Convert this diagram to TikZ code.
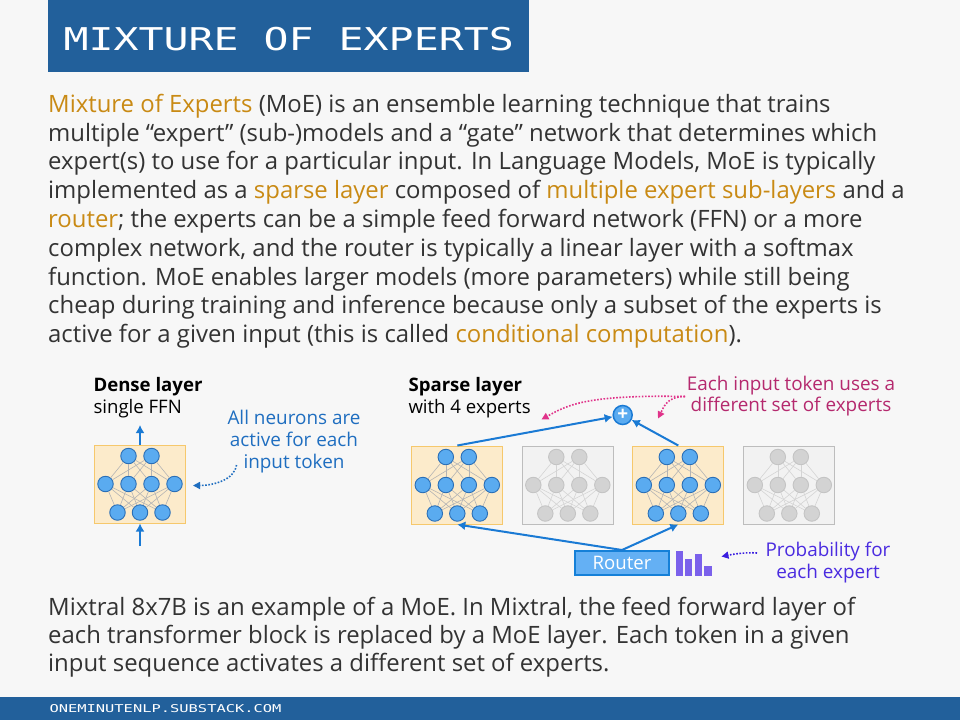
\documentclass[tikz,border=0pt]{standalone}
\usepackage{fontspec}
\usepackage{graphicx}
\setmainfont{Open Sans}
\newfontfamily\pixfont{DejaVu Sans Mono}
\usetikzlibrary{arrows.meta}
\definecolor{bg}{HTML}{F7F7F7}
\definecolor{titleblue}{HTML}{22609B}
\definecolor{txt}{HTML}{333333}
\definecolor{gold}{HTML}{C98A14}
\definecolor{conblue}{HTML}{1A7AD4}
\definecolor{nodefill}{HTML}{5AABF0}
\definecolor{nodedraw}{HTML}{2B6FB6}
\definecolor{boxfill}{HTML}{FCEBCB}
\definecolor{boxdraw}{HTML}{F6C86C}
\definecolor{netline}{HTML}{B4B4B4}
\definecolor{grayfill}{HTML}{F2F2F2}
\definecolor{graydraw}{HTML}{BDBDBD}
\definecolor{grayneuron}{HTML}{D3D3D3}
\definecolor{grayneurond}{HTML}{C4C4C4}
\definecolor{grayline}{HTML}{D4D4D4}
\definecolor{annblue}{HTML}{1F6EC0}
\definecolor{magtext}{HTML}{B5296E}
\definecolor{magarrow}{HTML}{E0338A}
\definecolor{purptext}{HTML}{4A2BE0}
\definecolor{purparrow}{HTML}{3A1EE0}
\definecolor{barpurple}{HTML}{7B61EB}
\definecolor{routerfill}{HTML}{64B0F4}
\definecolor{routerdraw}{HTML}{1580D8}
\tikzset{
  para/.style={anchor=base west, inner sep=0pt, text=txt, font=\fontsize{23.9pt}{28pt}\selectfont},
  ann/.style={anchor=base, inner sep=0pt, font=\fontsize{18.9pt}{22pt}\selectfont},
  hdr/.style={anchor=base west, inner sep=0pt, text=black, font=\fontsize{18.6pt}{22pt}\selectfont},
  arr/.style={draw=conblue, line width=2pt, -{Latex[length=8pt,width=9pt]}},
  dotarr/.style={line width=1.6pt, dash pattern=on 1.6pt off 1.6pt, -{Triangle[length=7pt,width=7pt]}},
  pics/net/.style n args={5}{code={
    \node[draw=#2, fill=#1, line width=1pt, minimum width=91pt, minimum height=78pt, inner sep=0pt] (-box) at (0,39) {};
    \foreach \n/\xx/\yy in {t1/-11.5/11, t2/11.5/11, m1/-34.5/39, m2/-11.5/39, m3/11.5/39, m4/34.5/39, b1/-22.5/67.5, b2/0/67.5, b3/22.5/67.5}
      \node[circle, fill=#3, draw=#4, line width=0.9pt, minimum size=15.5pt, inner sep=0pt] (-\n) at (\xx,\yy) {};
    \foreach \a in {t1,t2}
      \foreach \b in {m1,m2,m3,m4}
        \draw[draw=#5, line width=0.6pt] (-\a) -- (-\b);
    \foreach \a in {m1,m2,m3,m4}
      \foreach \b in {b1,b2,b3}
        \draw[draw=#5, line width=0.6pt] (-\a) -- (-\b);
  }}
}
\begin{document}
\begin{tikzpicture}[x=1pt,y=-1pt]
\useasboundingbox (0,0) rectangle (960,720);
\fill[bg] (0,0) rectangle (960,720);

% title bar
\node[fill=titleblue, minimum width=481pt, minimum height=72pt, inner sep=0pt, anchor=north west] (titlebar) at (48,0) {};
\node[anchor=base west, inner sep=0pt, text=white] (title) at (63.5,50) {\resizebox{450pt}{23.3pt}{\pixfont MIXTURE OF EXPERTS}};

% paragraph
\node[para] (p1) at (48,112.3) {{\color{gold}Mixture of Experts} (MoE) is an ensemble learning technique that trains};
\node[para] (p2) at (48,141.1) {multiple “expert” (sub-)models and a “gate” network that determines which};
\node[para] (p3) at (48,169.9) {expert(s) to use for a particular input. In Language Models, MoE is typically};
\node[para] (p4) at (48,198.7) {implemented as a {\color{gold}sparse layer} composed of {\color{gold}multiple expert sub-layers} and a};
\node[para] (p5) at (48,227.5) {{\color{gold}router}; the experts can be a simple feed forward network (FFN) or a more};
\node[para] (p6) at (48,256.3) {complex network, and the router is typically a linear layer with a softmax};
\node[para] (p7) at (48,285.1) {function. MoE enables larger models (more parameters) while still being};
\node[para] (p8) at (48,313.9) {cheap during training and inference because only a subset of the experts is};
\node[para] (p9) at (48,342.7) {active for a given input (this is called {\color{gold}conditional computation}).};

% dense layer
\node[hdr] (dh1) at (93.3,391.7) {\bfseries Dense layer};
\node[hdr] (dh2) at (93.3,413.8) {single FFN};
\pic (d) at (140,445) {net={boxfill}{boxdraw}{nodefill}{nodedraw}{netline}};
\coordinate (dout) at (140,425);
\coordinate (din) at (140,546);
\draw[arr] (d-box.north) -- (dout);
\draw[arr] (din) -- (d-box.south);

\node[ann, text=annblue] (an1) at (294,424) {All neurons are};
\node[ann, text=annblue] (an2) at (294,446) {active for each};
\node[ann, text=annblue] (an3) at (294,468) {input token};
\coordinate (na1) at (236.5,465);
\coordinate (na2) at (193,485.5);
\draw[dotarr, draw=annblue] (na1) .. controls +(-2,15) and +(20,0) .. (na2);

% sparse layer
\node[hdr] (sh1) at (408.3,391.7) {\bfseries Sparse layer};
\node[hdr] (sh2) at (408.3,413.8) {with 4 experts};
\pic (b1) at (457.3,446) {net={boxfill}{boxdraw}{nodefill}{nodedraw}{netline}};
\pic (b2) at (567.8,446) {net={grayfill}{graydraw}{grayneuron}{grayneurond}{grayline}};
\pic (b3) at (678.3,446) {net={boxfill}{boxdraw}{nodefill}{nodedraw}{netline}};
\pic (b4) at (789.3,446) {net={grayfill}{graydraw}{grayneuron}{grayneurond}{grayline}};

\node[circle, fill=nodefill, draw=conblue, line width=1.5pt, minimum size=19pt, inner sep=0pt, text=white, font=\bfseries\fontsize{19pt}{19pt}\selectfont] (plus) at (622.7,415) {+};
\draw[arr] (b1-box.north) -- (plus);
\draw[arr] (b3-box.north) -- (plus);

\node[fill=routerfill, draw=routerdraw, line width=2pt, minimum width=94pt, minimum height=24pt, inner sep=0pt, text=white, font=\fontsize{18.6pt}{18pt}\selectfont] (router) at (622,563) {Router};
\draw[arr] (router.north) -- (b1-box.south);
\draw[arr] (router.north) -- (b3-box.south);

% bars
\fill[barpurple] (675.7,551) rectangle (682.7,576);
\fill[barpurple] (685,559) rectangle (692.3,576);
\fill[barpurple] (695,554) rectangle (701.7,576);
\fill[barpurple] (704.3,565.7) rectangle (711.7,576);

% magenta annotation
\node[ann, text=magtext] (mt1) at (791,390) {Each input token uses a};
\node[ann, text=magtext] (mt2) at (791,411.5) {different set of experts};
\coordinate (ms) at (685,396.5);
\coordinate (me1) at (541.5,419.5);
\coordinate (me2) at (658,418.5);
\draw[dotarr, draw=magarrow] (ms) .. controls +(-100,-2) and +(25,-14) .. (me1);
\draw[dotarr, draw=magarrow] (ms) .. controls +(-18,0) and +(6,-12) .. (me2);

% purple annotation
\node[ann, text=purptext] (pt1) at (828,556.5) {Probability for};
\node[ann, text=purptext] (pt2) at (828,578) {each expert};
\coordinate (pa1) at (757,553);
\coordinate (pa2) at (721.5,556.5);
\draw[dotarr, draw=purparrow] (pa1) .. controls +(-12,-1) and +(10,-2) .. (pa2);

% bottom paragraph
\node[para] (q1) at (48,615) {Mixtral 8x7B is an example of a MoE. In Mixtral, the feed forward layer of};
\node[para] (q2) at (48,643.4) {each transformer block is replaced by a MoE layer. Each token in a given};
\node[para] (q3) at (48,671.8) {input sequence activates a different set of experts.};

% footer
\node[fill=titleblue, minimum width=960pt, minimum height=23.3pt, inner sep=0pt, anchor=north west] (footbar) at (0,696.7) {};
\node[anchor=base west, inner sep=0pt, text=white] (foot) at (49.3,712.7) {\resizebox{232pt}{8pt}{\pixfont ONEMINUTENLP.SUBSTACK.COM}};
\end{tikzpicture}
\end{document}
